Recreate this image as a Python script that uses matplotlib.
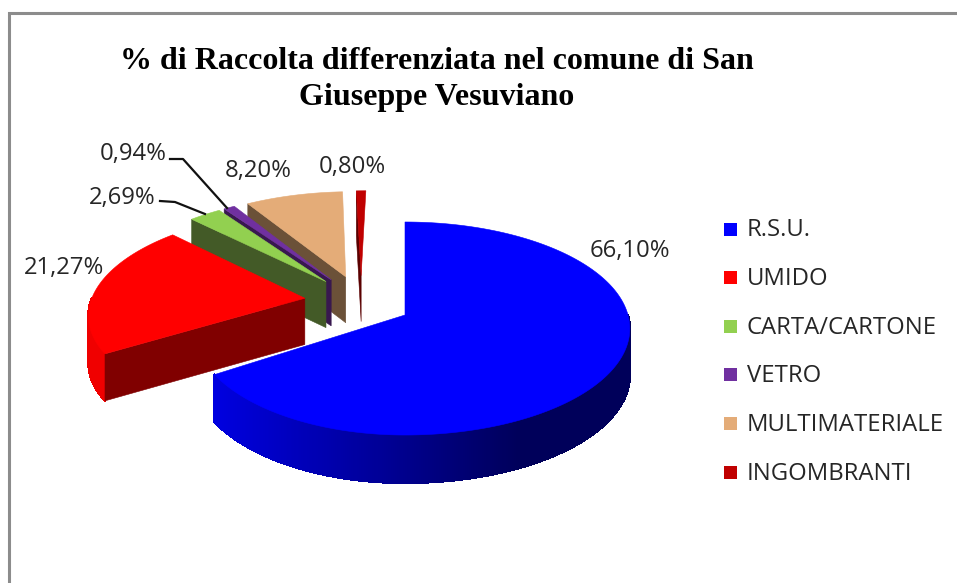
import numpy as np
import matplotlib
matplotlib.use('Agg')
import matplotlib.pyplot as plt
from matplotlib.collections import PolyCollection
from matplotlib.patches import Polygon, Rectangle
from matplotlib.colors import to_rgb

title = "% di Raccolta differenziata nel comune di San\nGiuseppe Vesuviano"
categories = ["R.S.U.", "UMIDO", "CARTA/CARTONE", "VETRO", "MULTIMATERIALE", "INGOMBRANTI"]
values = [66.10, 21.27, 2.69, 0.94, 8.20, 0.80]

top_colors = ["#0000FF", "#FF0000", "#92D050", "#7030A0", "#E4AC78", "#C00000"]
side_colors = ["#00007A", "#800000", "#435A27", "#38184F", "#6B5138", "#5A0000"]
# left and right end of the rim shading
rim_left = ["#0000E0", "#F00000", "#92D050", "#7030A0", "#E4AC78", "#C00000"]
rim_right = ["#00005A", "#A00000", "#435A27", "#38184F", "#6B5138", "#5A0000"]

label_pos = [(630, 251), (64, 268), (122, 198), (133, 154), (258, 171), (352, 167)]
leaders = {2: [(160, 201), (175, 202), (205, 214)],
           3: [(170, 159), (183, 159), (227, 208)]}

# fake perspective of the Excel 3D pie
CX, CY = 405, 315
RX, RY, K = 223, 104.8, 0.1268
DEPTH = 46.5
EXPLODE = 0.26
ORIGIN = (-0.2, 0.135)
radius = [1.0, 0.975, 1.0, 1.0, 1.0, 1.0]


def project(u, v, down=False):
    w = 1 + K * v
    x = CX + RX * u / w
    y = CY - RY * v / w
    if down:
        y = y + DEPTH * (1 - 0.03 * v)
    return x, y


def lerp(c1, c2, t):
    a, b = np.array(to_rgb(c1)), np.array(to_rgb(c2))
    return tuple(a + (b - a) * t)


fig = plt.figure(figsize=(9.57, 5.83), dpi=100)
ax = fig.add_axes([0, 0, 1, 1])
ax.set_xlim(0, 957)
ax.set_ylim(583, 0)
ax.axis('off')

# chart frame, cut by the screenshot on the right and at the bottom
ax.plot([9, 9, 957], [583, 13, 13], color="#8C8C8C", lw=2.2, solid_joinstyle='miter')

edges = np.concatenate([[0], np.cumsum(values)]) * 3.6
draw_order = [0, 5, 4, 3, 2, 1]

for z, i in enumerate(draw_order):
    a1, a2 = np.radians(edges[i]), np.radians(edges[i + 1])
    mid = (a1 + a2) / 2
    u0 = ORIGIN[0] + EXPLODE * np.sin(mid)
    v0 = ORIGIN[1] + EXPLODE * np.cos(mid)
    if i == 0:
        # the big slice stays around the centre
        u0, v0 = 0.0, 0.0
    th = np.linspace(a1, a2, max(int(np.degrees(a2 - a1)) * 2, 4) + 1)
    us = u0 + radius[i] * np.sin(th)
    vs = v0 + radius[i] * np.cos(th)
    if i == 0:
        # left side of the big slice is a bit shorter in the original
        us = np.where(us < 0, us * 0.94, us)

    # rim, only the part turned to the viewer
    quads, cols = [], []
    for j in range(len(th) - 1):
        if np.cos((th[j] + th[j + 1]) / 2) >= 0:
            continue
        p1 = project(us[j], vs[j])
        p2 = project(us[j + 1], vs[j + 1])
        p3 = project(us[j + 1], vs[j + 1], True)
        p4 = project(us[j], vs[j], True)
        quads.append([p1, p2, p3, p4])
        t = np.clip((p1[0] - 213) / (520 - 213), 0, 1) if i == 0 else 0.0
        cols.append(lerp(rim_left[i], rim_right[i], t))
    if quads:
        ax.add_collection(PolyCollection(quads, facecolors=cols, edgecolors=cols, linewidths=1.0,
                                         antialiaseds=False, zorder=z + 2))

    # cut face on the starting edge
    face = [project(u0, v0), project(us[0], vs[0]),
            project(us[0], vs[0], True), project(u0, v0, True)]
    ax.add_patch(Polygon(face, closed=True, fc=side_colors[i], ec=side_colors[i], lw=0.4, zorder=z + 2))

    # top of the slice
    xs, ys = project(us, vs)
    top = np.column_stack([np.r_[project(u0, v0)[0], xs], np.r_[project(u0, v0)[1], ys]])
    ax.add_patch(Polygon(top, closed=True, fc=top_colors[i], ec=top_colors[i], lw=0.4, zorder=z + 2))

font = ["Open Sans", "DejaVu Sans"]
text_col = "#262626"

for i, v in enumerate(values):
    txt = f"{v:.2f}%".replace(".", ",")
    ax.text(label_pos[i][0], label_pos[i][1], txt, ha='center', va='center',
            fontsize=17.2, family=font, color=text_col, zorder=20)

for k, pts in leaders.items():
    ax.plot([p[0] for p in pts], [p[1] for p in pts], color="#111111", lw=1.6, zorder=20)

ax.text(437, 79.5, title, ha='center', va='center', fontsize=23, fontweight='bold',
        family="Liberation Serif", color="black", linespacing=1.3, zorder=20)

# legend
for i, name in enumerate(categories):
    y = 229 + i * 48.6
    ax.add_patch(Rectangle((724, y - 6.5), 13, 13, fc=top_colors[i], ec="none", zorder=20))
    ax.text(747, y + 1.5, name, ha='left', va='center', fontsize=17.2, family=font, color=text_col, zorder=20)

fig.savefig("out.png", dpi=100)
